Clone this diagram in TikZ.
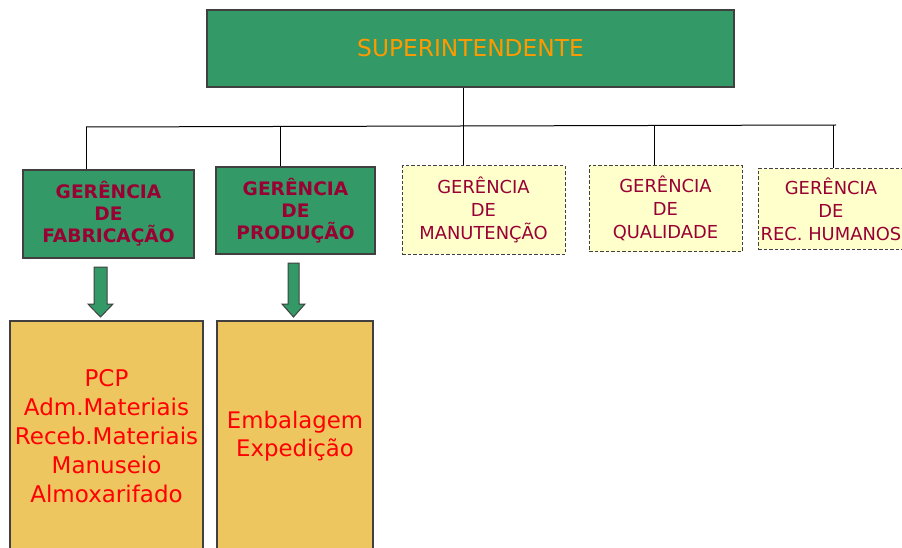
\documentclass[tikz,border=0pt]{standalone}
\usepackage{fontspec}
\setmainfont{DejaVu Sans}
\definecolor{gfill}{HTML}{339966}
\definecolor{wine}{HTML}{990033}
\definecolor{orangetxt}{HTML}{FF9900}
\definecolor{yfill}{HTML}{FFFFCC}
\definecolor{ofill}{HTML}{EEC660}
\definecolor{edge}{HTML}{404040}
\begin{document}
\begin{tikzpicture}[x=1pt,y=-1pt,
  box/.style={draw=edge,line width=1.2pt,inner sep=0pt,align=center},
  gbox/.style={box,fill=gfill,text=wine,font=\fontsize{18.6}{22}\selectfont\bfseries},
  ybox/.style={box,fill=yfill,line width=1pt,dash pattern=on 3.5pt off 2pt,text=wine,font=\fontsize{17.9}{23}\selectfont},
  obox/.style={box,fill=ofill,text=red},
  conn/.style={draw=black,line width=1pt},
  blockarrow/.style={fill=gfill,draw=edge,line width=1pt,line join=miter}]
\clip (0,0) rectangle (902,548);
\fill[white] (0,0) rectangle (902,548);
% top
\node[box,fill=gfill,text=orangetxt,font=\fontsize{23.3}{27}\selectfont,
  minimum width=527pt,minimum height=77pt] (sup) at (470.5,48.5) {SUPERINTENDENTE};
% second level
\node[gbox,minimum width=171pt,minimum height=88pt] (fab) at (108.5,214) {GERÊNCIA\\DE\\FABRICAÇÃO};
\node[gbox,minimum width=159pt,minimum height=87pt] (prod) at (295.5,210.5) {GERÊNCIA\\DE\\PRODUÇÃO};
\node[ybox,minimum width=163pt,minimum height=88pt] (man) at (483.5,210) {GERÊNCIA\\DE\\MANUTENÇÃO};
\node[ybox,minimum width=153pt,minimum height=86pt] (qual) at (665.5,208.5) {GERÊNCIA\\DE\\QUALIDADE};
\node[ybox,minimum width=146pt,minimum height=80pt] (rh) at (831,209) {GERÊNCIA\\DE\\REC. HUMANOS};
% bottom boxes
\node[obox,minimum width=193pt,minimum height=230pt,font=\fontsize{23}{29}\selectfont] (ob1) at (106.5,436)
  {PCP\\Adm.Materiais\\Receb.Materiais\\Manuseio\\Almoxarifado};
\node[obox,minimum width=156pt,minimum height=230pt,font=\fontsize{22.8}{28}\selectfont] (ob2) at (295,436)
  {Embalagem\\Expedição};
% bus
\coordinate (busL) at (86,127);
\coordinate (busR) at (836,125);
\coordinate (d2) at (280,126.5);
\coordinate (d3) at (463,126);
\coordinate (d4) at (654,125.5);
\coordinate (d5) at (833,125);
\draw[conn] (d3 |- sup.south) -- (d3);
\draw[conn] (busL) -- (busR);
\draw[conn] (busL) -- (fab.north -| busL);
\draw[conn] (d2) -- (prod.north -| d2);
\draw[conn] (d3) -- (man.north -| d3);
\draw[conn] (d4) -- (qual.north -| d4);
\draw[conn] (d5) -- (rh.north -| d5);
% block arrows
\draw[blockarrow] (94,267) -- (107,267) -- (107,304) -- (113,304) -- (100.5,317) -- (88,304) -- (94,304) -- cycle;
\draw[blockarrow] (288,263) -- (299,263) -- (299,304) -- (305,304) -- (293.5,317) -- (282,304) -- (288,304) -- cycle;
\end{tikzpicture}
\end{document}
